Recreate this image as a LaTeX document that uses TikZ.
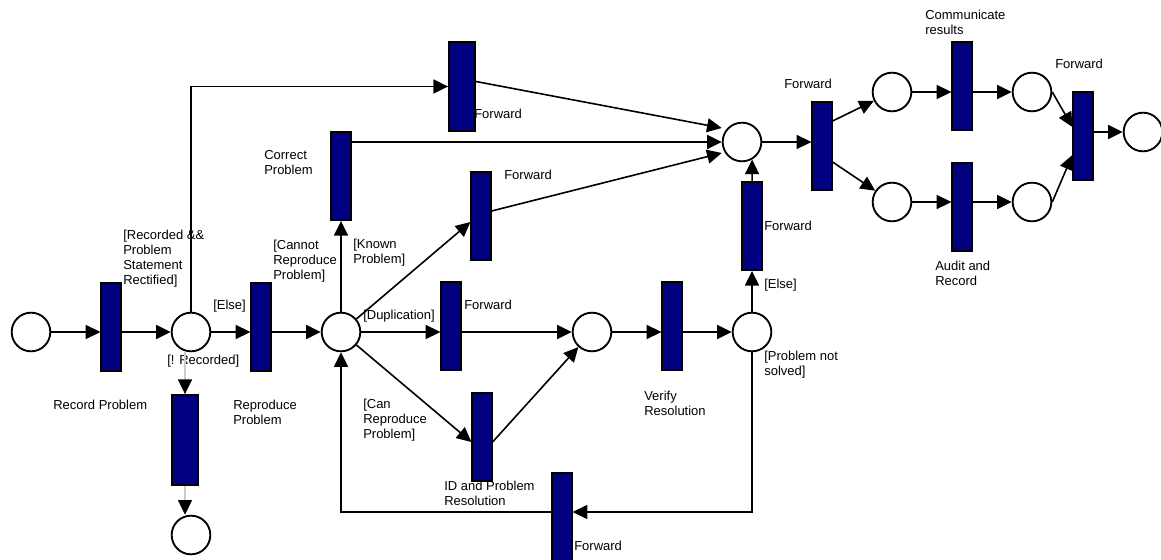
\documentclass[tikz,border=0pt]{standalone}
\usepackage{fontspec}
\setmainfont{Liberation Sans}
\usetikzlibrary{arrows.meta}
\definecolor{petriblue}{RGB}{0,0,128}

\tikzset{
  place/.style={circle, draw, line width=1.4pt, fill=white, minimum size=29pt, inner sep=0pt},
  trans/.style={rectangle, draw, line width=1.4pt, fill=petriblue, minimum width=14.5pt, minimum height=66pt, inner sep=0pt},
  flow/.style={line width=1.2pt, -{Triangle[length=11pt,width=10.5pt]}},
  faint/.style={line width=1pt, draw=black!20, -{Triangle[length=11pt,width=10.5pt,color=black]}},
  lbl/.style={anchor=west, align=left, inner sep=0pt, font=\fontsize{9.75}{11.25}\selectfont},
}

\begin{document}
\begin{tikzpicture}[x=0.75pt, y=-0.75pt]
        \useasboundingbox (0,0) rectangle (1161,560);

        % Labels
        \node[lbl] (lRecorded) at (123,258.5) {[Recorded \&\&\\Problem\\Statement\\Rectified]};
        \node[lbl] (lElseA) at (213,306) {[Else]};
        \node[lbl] (lNotRec) at (167,361) {[! Recorded]};
        \node[lbl] (lRecord) at (53,405) {Record Problem};
        \node[lbl] (lReproduce) at (233,412.5) {Reproduce\\Problem};
        \node[lbl] (lCannot) at (273,261) {[Cannot\\Reproduce\\Problem]};
        \node[lbl] (lCorrect) at (264,163) {Correct\\Problem};
        \node[lbl] (lKnown) at (353,253) {[Known\\Problem]};
        \node[lbl] (lDuplic) at (363,316) {[Duplication]};
        \node[lbl] (lCan) at (363,420) {[Can\\Reproduce\\Problem]};
        \node[lbl] (lFwdTop) at (474,114) {Forward};
        \node[lbl] (lFwdKnown) at (504,175) {Forward};
        \node[lbl] (lFwdDup) at (464,305) {Forward};
        \node[lbl] (lResolve) at (444,493.5) {ID and Problem\\Resolution};
        \node[lbl] (lFwdBack) at (574,546) {Forward};
        \node[lbl] (lVerify) at (644,403.5) {Verify\\Resolution};
        \node[lbl] (lNotSolved) at (764,364.5) {[Problem not\\solved]};
        \node[lbl] (lElseB) at (764,285) {[Else]};
        \node[lbl] (lFwdUp) at (764,226) {Forward};
        \node[lbl] (lFwdSplit) at (784,84) {Forward};
        \node[lbl] (lComm) at (925,22) {Communicate\\results};
        \node[lbl] (lAudit) at (935,273.5) {Audit and\\Record};
        \node[lbl] (lFwdJoin) at (1055,64) {Forward};

        % Places
        \foreach \n/\x/\y in {p0/31/332, p1/191/332, p2/341/332, p3/742/142,
                              p4/592/332, p5/752/332, p6/892/92, p7/892/202,
                              p8/1032/92, p9/1032/202, p10/1143/132, p11/191/535} {
            \node[place] (\n) at (\x,\y) {};
        }

        % Transitions
        \foreach \n/\x/\y in {tRecord/111/327, tReproduce/261/327, tCorrect/341/176,
                              tKnown/481/216, tDup/451/326, tId/482/437,
                              tVerify/672/326, tFwdBack/562/517, tFwdUp/752/226,
                              tSplit/822/146, tComm/962/86, tAudit/962/207, tJoin/1083/136} {
            \node[trans] (\n) at (\x,\y) {};
        }
        \node[trans, minimum width=19.5pt, minimum height=67pt] (tFwdTop) at (462,86.5) {};
        \node[trans, minimum width=19pt, minimum height=67.5pt] (tDrop) at (185,440) {};

        % Arcs, main line
        \draw[flow] (p0) -- (p0 -| tRecord.west);
        \draw[flow] (tRecord.east |- p1) -- (p1);
        \draw[flow] (p1) -- (p1 -| tReproduce.west);
        \draw[flow] (tReproduce.east |- p2) -- (p2);
        \draw[flow] (p1.north) |- (tFwdTop.west);
        \draw[faint] (p1.south -| tDrop) -- (tDrop.north);
        \draw[faint] (tDrop.south) -- (tDrop.south |- p11.north);

        % Arcs, out of the reproduce place
        \draw[flow] (p2) -- (tCorrect);
        \draw[flow] (p2) -- ([yshift=-4.5pt]tKnown.west);
        \draw[flow] (p2) -- (p2 -| tDup.west);
        \draw[flow] (p2) -- ([yshift=-3.75pt]tId.west);

        % Arcs into the merge place
        \draw[flow] ([yshift=3.75pt]tFwdTop.east) -- ([yshift=10.5pt]p3.west);
        \draw[flow] (tCorrect.east |- p3) -- (p3);
        \draw[flow] ([yshift=3.75pt]tKnown.east) -- ([yshift=-8.25pt]p3.west);

        % Verify loop
        \draw[flow] (tDup.east |- p4) -- (p4);
        \draw[flow] ([yshift=-3.75pt]tId.east) -- (p4);
        \draw[flow] (p4) -- (p4 -| tVerify.west);
        \draw[flow] (tVerify.east |- p5) -- (p5);
        \draw[flow] (p5) -- (tFwdUp);
        \draw[flow] (tFwdUp) -- (p3.-60);
        \draw[flow] (p5.south) |- ([yshift=3.75pt]tFwdBack.east);
        \draw[flow] ([yshift=3.75pt]tFwdBack.west) -| (p2.south);

        % Split and join
        \draw[flow] (p3) -- (p3 -| tSplit.west);
        \draw[flow] ([yshift=18.75pt]tSplit.east) -- (p6);
        \draw[flow] ([yshift=-12pt]tSplit.east) -- (p7);
        \draw[flow] (p6) -- (p6 -| tComm.west);
        \draw[flow] (tComm.east |- p8) -- (p8);
        \draw[flow] (p7) -- (p7 -| tAudit.west);
        \draw[flow] (tAudit.east |- p9) -- (p9);
        \draw[flow] (p8.east) -- ([yshift=6.75pt]tJoin.west);
        \draw[flow] (p9.east) -- ([yshift=-14.25pt]tJoin.west);
        \draw[flow] (tJoin.east |- p10) -- (p10);
\end{tikzpicture}
\end{document}
